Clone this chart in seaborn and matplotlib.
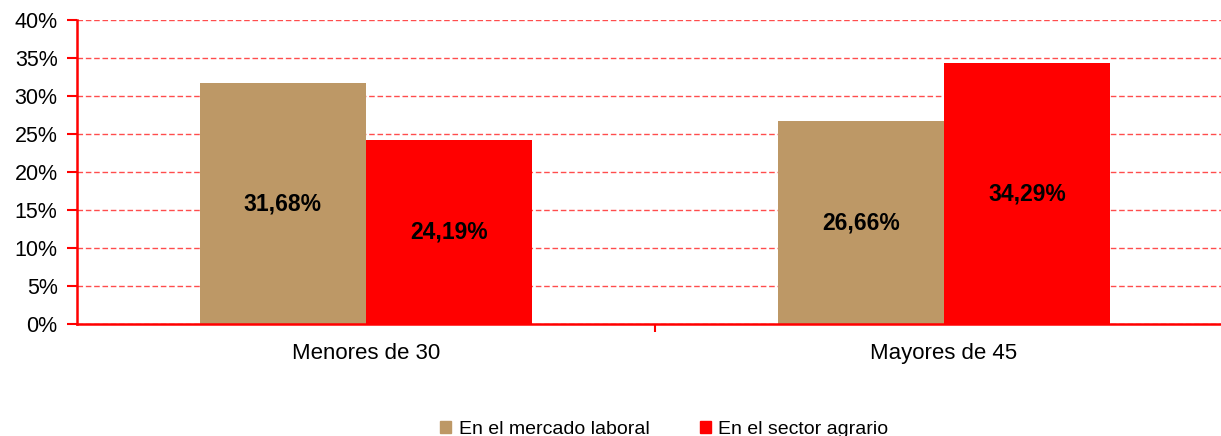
import seaborn as sns
import numpy as np
import pandas as pd
import matplotlib.pyplot as plt

sns.set_style("white")
plt.rcParams['font.family'] = ['Liberation Sans', 'DejaVu Sans']
plt.rcParams['text.color'] = 'black'

# datos
grupos = ["Menores de 30", "Mayores de 45"]
series = ["En el mercado laboral", "En el sector agrario"]
mercado_laboral = [31.68, 26.66]
sector_agrario = [24.19, 34.29]
colores = ["#BD9866", "#FF0000"]

df = pd.DataFrame({
    "grupo": grupos * 2,
    "serie": [series[0]] * 2 + [series[1]] * 2,
    "valor": mercado_laboral + sector_agrario,
})

fig = plt.figure(figsize=(12.21, 4.36), dpi=100)
ax = fig.add_axes([77 / 1221, 1 - 324 / 436, 1156 / 1221, 304 / 436])

sns.barplot(data=df, x="grupo", y="valor", hue="serie", palette=colores,
            width=0.575, saturation=1, gap=0, linewidth=0, ax=ax, legend=False)

for cont in ax.containers:
    ax.bar_label(cont, labels=[f"{v:.2f}%".replace(".", ",") for v in cont.datavalues],
                 label_type='center', fontsize=16.5, fontweight='bold', color='black')

ax.set_ylim(0, 40)
ax.set_yticks(np.arange(0, 41, 5))
ax.set_yticklabels([f"{v}%" for v in range(0, 41, 5)], fontsize=15.5, color='black')
ax.set_xlim(-0.5, 1.5)
ax.tick_params(axis='x', length=0, labelsize=16, labelcolor='black', pad=14)
ax.set_xticks([0.5], minor=True)
ax.tick_params(axis='x', which='minor', bottom=True, length=6, width=1.5, color='red', direction='out')
ax.tick_params(axis='y', left=True, length=7, width=1.5, color='red', direction='out', pad=7)
ax.set_xlabel("")
ax.set_ylabel("")

ax.grid(axis='y', color='#FF4D4D', linestyle=(0, (4, 2)), linewidth=1)
ax.set_axisbelow(True)
for s in ['top', 'right']:
    ax.spines[s].set_visible(False)
for s in ['left', 'bottom']:
    ax.spines[s].set_color('red')
    ax.spines[s].set_linewidth(1.8)

handles = [plt.Rectangle((0, 0), 1, 1, color=c) for c in colores]
fig.legend(handles, series, loc='lower center', bbox_to_anchor=(0.544, -0.045), ncol=2,
           frameon=False, fontsize=14, handlelength=0.55, handleheight=0.55,
           handletextpad=0.4, columnspacing=2.6)

fig.savefig("out.png", dpi=100)
